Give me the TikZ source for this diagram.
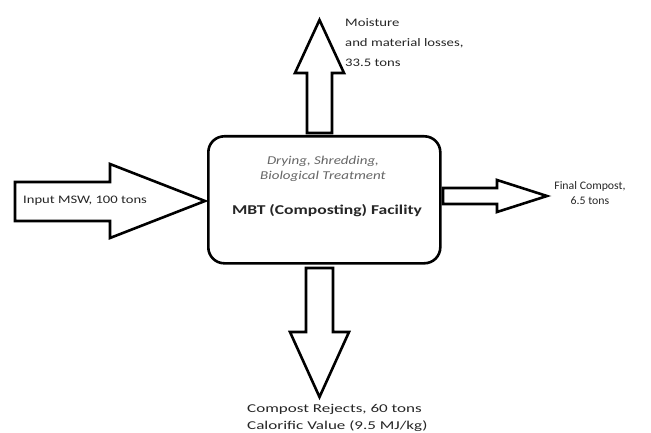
\documentclass[tikz,border=0pt]{standalone}
\usepackage{fontspec}
\usepackage{graphicx}
\setmainfont{Carlito}
\begin{document}
\begin{tikzpicture}[x=1pt,y=-1pt,
  outline/.style={draw=black,line width=2.6pt,line join=miter,fill=white},
  lbl/.style={inner sep=0pt,font=\fontsize{11.5}{19}\selectfont,text=black!85},
]
\useasboundingbox (0,0) rectangle (651,433);
% main box
\node[outline,rounded corners=16pt,minimum width=232pt,minimum height=127pt,anchor=north west,inner sep=0pt] (box) at (207,135) {};
\node[lbl,font=\fontsize{12}{17}\selectfont\itshape,text=black!60] (proc) at (323,169) {\scalebox{1.25}[1]{\begin{tabular}{@{}c@{}}Drying, Shredding,\\[-2pt]Biological Treatment\end{tabular}}};
\node[lbl,font=\fontsize{13.5}{15}\selectfont\bfseries] (fac) at (327,211) {\scalebox{1.3}[1]{MBT (Composting) Facility}};
% block arrows
\draw[outline] (15,182) -- (110,182) -- (110,164) -- (205,201) -- (110,238) -- (110,221) -- (15,221) -- cycle;
\draw[outline] (307,133) -- (307,73) -- (295,73) -- (319.5,20) -- (344,73) -- (332,73) -- (332,133) -- cycle;
\draw[outline] (443,188) -- (497,188) -- (497,180) -- (547,196) -- (497,212) -- (497,204) -- (443,204) -- cycle;
\draw[outline] (306,268) -- (333,268) -- (333,332) -- (349,332) -- (319.5,397) -- (290,332) -- (306,332) -- cycle;
% labels
\node[lbl,anchor=west] (in) at (23,201) {\scalebox{1.27}[1]{Input MSW, 100 tons}};
\node[lbl,anchor=north west] (moist) at (345,13) {\scalebox{1.28}[1]{\begin{tabular}{@{}l@{}}Moisture\\[1pt]and material losses,\\[1pt]33.5 tons\end{tabular}}};
\node[lbl,font=\fontsize{11.5}{17}\selectfont] (fin) at (590,194) {\scalebox{1.03}[1]{\begin{tabular}{@{}c@{}}Final Compost,\\[-2pt]6.5 tons\end{tabular}}};
\node[lbl,anchor=north west,font=\fontsize{12}{16}\selectfont] (rej) at (247,401) {\scalebox{1.42}[1]{\begin{tabular}{@{}l@{}}Compost Rejects, 60 tons\\[1pt]Calorific Value (9.5 MJ/kg)\end{tabular}}};
\end{tikzpicture}
\end{document}
